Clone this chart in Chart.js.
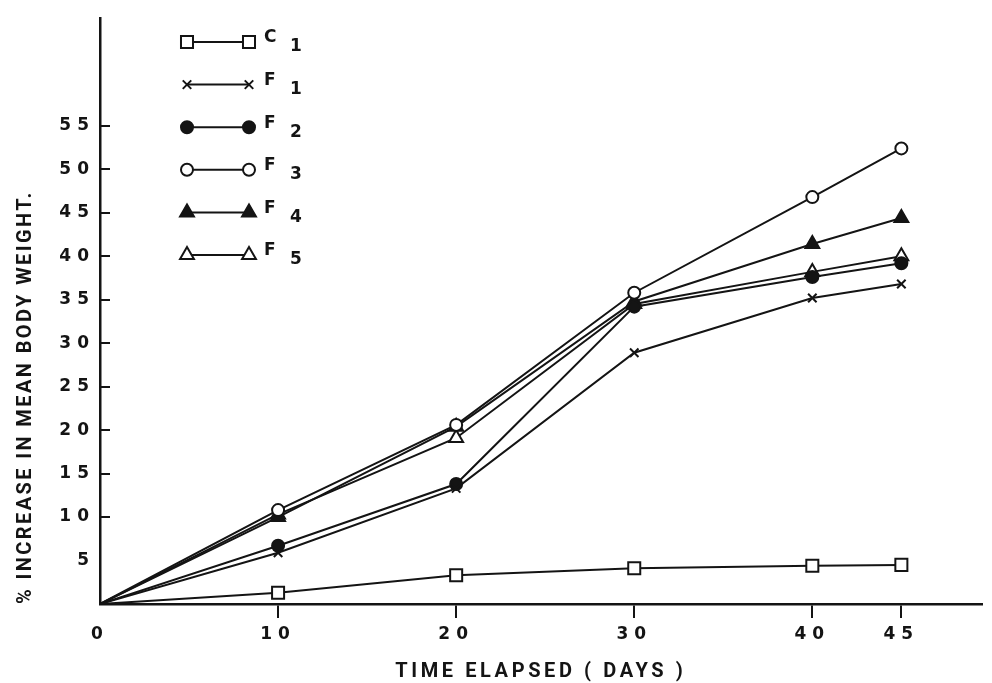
<!DOCTYPE html>
<html>
<head>
<meta charset="utf-8">
<script src="https://cdn.jsdelivr.net/npm/chart.js@4.4.1/dist/chart.umd.min.js"></script>
<style>
  html, body { margin: 0; padding: 0; background: #ffffff; }
  #wrap { width: 992px; height: 683px; }
</style>
</head>
<body>
<div id="wrap"><canvas id="chart" width="992" height="683"></canvas></div>
<script>
// Days on which body weight was recorded
const days = [0, 10, 20, 30, 40, 45];

// % increase in mean body weight for each group
const c1 = [0, 1.3, 3.3, 4.1, 4.4, 4.5];
const f1 = [0, 5.9, 13.3, 28.9, 35.2, 36.8];
const f2 = [0, 6.7, 13.8, 34.2, 37.6, 39.2];
const f3 = [0, 10.8, 20.6, 35.8, 46.8, 52.4];
const f4 = [0, 10.0, 20.4, 34.8, 41.4, 44.4];
const f5 = [0, 10.3, 19.1, 34.5, 38.2, 40.0];

// Group names: letter plus subscript number
const groupLetters = ['C', 'F', 'F', 'F', 'F', 'F'];
const groupNumbers = ['1', '1', '2', '3', '4', '5'];

// Axis ticks and titles
const xTickValues = [0, 10, 20, 30, 40, 45];
const yTickValues = [5, 10, 15, 20, 25, 30, 35, 40, 45, 50, 55];
const xTitle = 'TIME ELAPSED ( DAYS )';
const yTitle = '% INCREASE IN MEAN BODY WEIGHT.';

const INK = '#141414';

const seriesValues = [c1, f1, f2, f3, f4, f5];
const markerStyles = [
  { pointStyle: 'rect',     radius: 8.5, fill: '#ffffff' },
  { pointStyle: 'crossRot', radius: 6,   fill: INK },
  { pointStyle: 'circle',   radius: 6,   fill: INK },
  { pointStyle: 'circle',   radius: 6,   fill: '#ffffff' },
  { pointStyle: 'triangle', radius: 8,   fill: INK },
  { pointStyle: 'triangle', radius: 8,   fill: '#ffffff' }
];

const datasets = seriesValues.map((vals, i) => {
  const m = markerStyles[i];
  return {
    label: groupLetters[i] + groupNumbers[i],
    data: days.map((d, k) => ({ x: d, y: vals[k] })),
    borderColor: INK,
    borderWidth: 2,
    backgroundColor: m.fill,
    pointStyle: m.pointStyle,
    pointBackgroundColor: m.fill,
    pointBorderColor: INK,
    pointBorderWidth: 2,
    pointRadius: (ctx) => (ctx.dataIndex === 0 ? 0 : m.radius),
    tension: 0,
    fill: false
  };
});

// Spaced lettering for the tick numbers
const letterSpacingPlugin = {
  id: 'letterSpacing',
  beforeDraw(chart) {
    chart.ctx.letterSpacing = '6px';
  }
};

// Short inward tick marks on the vertical axis, axis titles and the key
const decorPlugin = {
  id: 'decor',
  afterDraw(chart) {
    const ctx = chart.ctx;
    const ys = chart.scales.y;
    const xs = chart.scales.x;
    const area = chart.chartArea;

    ctx.save();
    ctx.letterSpacing = '0px';
    ctx.strokeStyle = INK;
    ctx.lineWidth = 2;
    ys.ticks.forEach((t, idx) => {
      if (idx === 0) return;
      const py = Math.round(ys.getPixelForValue(t.value));
      ctx.beginPath();
      ctx.moveTo(area.left, py);
      ctx.lineTo(area.left + 10, py);
      ctx.stroke();
    });

    // Axis titles
    ctx.fillStyle = INK;
    ctx.font = 'bold 20px Roboto, "DejaVu Sans", sans-serif';
    ctx.textBaseline = 'middle';
    ctx.textAlign = 'center';
    ctx.letterSpacing = '3.6px';
    ctx.fillText(xTitle, (xs.left + xs.right) / 2, 672);

    ctx.save();
    ctx.letterSpacing = '2.4px';
    ctx.translate(26, area.bottom);
    ctx.rotate(-Math.PI / 2);
    ctx.textAlign = 'left';
    ctx.fillText(yTitle, 0, 0);
    ctx.restore();

    // Key: a short line with the marker at each end, then the group name
    ctx.letterSpacing = '0px';
    const x0 = 187, x1 = 249, rowTop = 42, rowGap = 42.6;
    chart.data.datasets.forEach((ds, i) => {
      const y = rowTop + i * rowGap;
      ctx.strokeStyle = INK;
      ctx.lineWidth = 2;
      ctx.beginPath();
      ctx.moveTo(x0, y);
      ctx.lineTo(x1, y);
      ctx.stroke();
      const m = markerStyles[i];
      [x0, x1].forEach((px) => {
        ctx.fillStyle = m.fill;
        ctx.strokeStyle = INK;
        ctx.lineWidth = 2;
        Chart.helpers.drawPoint(ctx, {
          pointStyle: m.pointStyle,
          radius: m.radius,
          rotation: 0,
          borderWidth: 2
        }, px, y);
      });
      ctx.fillStyle = INK;
      ctx.textAlign = 'left';
      ctx.textBaseline = 'middle';
      ctx.font = 'bold 17px "DejaVu Sans", sans-serif';
      ctx.fillText(groupLetters[i], 264, y - 4);
      ctx.fillText(groupNumbers[i], 290, y + 5);
    });
    ctx.restore();
  }
};

new Chart(document.getElementById('chart'), {
  type: 'line',
  data: { datasets },
  options: {
    responsive: false,
    devicePixelRatio: 1,
    animation: false,
    layout: { padding: { top: 18, right: 2, left: 0, bottom: 0 } },
    plugins: {
      legend: { display: false },
      tooltip: { enabled: false },
      title: { display: false }
    },
    scales: {
      x: {
        type: 'linear',
        min: 0,
        max: 49.5,
        afterBuildTicks: (scale) => { scale.ticks = xTickValues.map(v => ({ value: v })); },
        afterFit: (scale) => { scale.height = 79; },
        grid: {
          display: true,
          drawOnChartArea: false,
          drawTicks: true,
          tickLength: 14,
          lineWidth: 2,
          color: (ctx) => (ctx.tick && ctx.tick.value === 0 ? 'rgba(0,0,0,0)' : INK)
        },
        border: { display: true, color: INK, width: 2.5 },
        ticks: {
          color: INK,
          padding: 6,
          maxRotation: 0,
          autoSkip: false,
          font: { family: '"DejaVu Sans", sans-serif', weight: 'bold', size: 17 },
          callback: (v) => String(v)
        }
      },
      y: {
        type: 'linear',
        min: 0,
        max: 67.4,
        afterBuildTicks: (scale) => { scale.ticks = yTickValues.map(v => ({ value: v })); },
        afterFit: (scale) => { scale.width = 100; },
        grid: { display: false },
        border: { display: true, color: INK, width: 2.5 },
        ticks: {
          color: INK,
          padding: -3,
          autoSkip: false,
          font: { family: '"DejaVu Sans", sans-serif', weight: 'bold', size: 17 },
          callback: (v) => String(v)
        }
      }
    }
  },
  plugins: [letterSpacingPlugin, decorPlugin]
});
</script>
</body>
</html>
